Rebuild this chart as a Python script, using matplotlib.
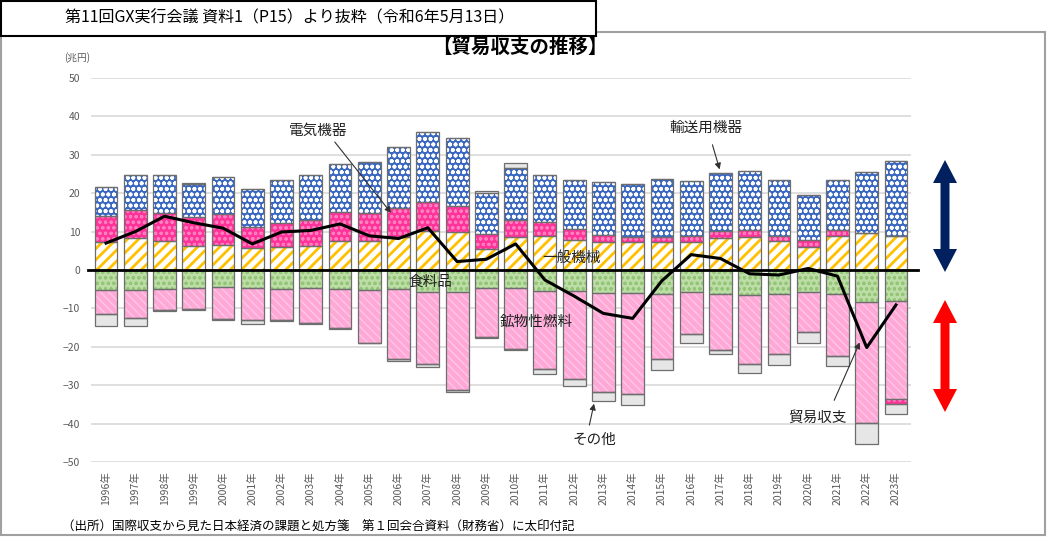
import matplotlib
matplotlib.use('Agg')
import matplotlib.pyplot as plt
import numpy as np
from matplotlib.patches import Rectangle, Polygon

plt.rcParams['font.family'] = ['Noto Sans CJK JP', 'DejaVu Sans']

# data (兆円)
years = [str(y) + '年' for y in range(1996, 2024)]

# exports side (positive stack)
machinery = [7.2, 8.3, 7.5, 6.3, 6.6, 5.7, 6.0, 6.3, 7.6, 7.6, 8.5, 10.2, 9.8, 5.4,
             8.7, 8.9, 7.8, 7.4, 7.4, 7.4, 7.4, 8.4, 8.7, 7.6, 6.1, 8.9, 9.7, 8.9]
electrical = [6.9, 7.3, 7.4, 7.4, 7.9, 5.6, 6.3, 6.8, 7.4, 7.3, 7.6, 7.5, 6.8, 4.1,
              4.3, 3.5, 2.9, 1.7, 1.3, 1.3, 1.5, 1.8, 1.7, 1.3, 1.6, 1.5, 0.0, 0.0]
transport = [7.6, 9.2, 9.9, 8.7, 9.6, 9.7, 11.2, 11.6, 12.5, 13.3, 16.0, 18.3, 17.9, 10.6,
             13.6, 12.3, 12.7, 13.7, 13.7, 15.0, 14.4, 15.1, 15.4, 14.5, 11.8, 13.0, 15.8, 19.6]
other_pos = [0.0, 0.0, 0.0, 0.3, 0.0, 0.0, 0.0, 0.0, 0.2, 0.0, 0.0, 0.0, 0.0, 0.6,
             1.2, 0.0, 0.0, 0.0, 0.0, 0.0, 0.0, 0.0, 0.0, 0.0, 0.0, 0.0, 0.0, 0.0]

# imports side (negative stack, magnitudes)
food = [5.2, 5.2, 5.0, 4.8, 4.5, 4.8, 5.0, 4.8, 5.0, 5.2, 5.0, 5.6, 5.8, 4.7,
        4.7, 5.4, 5.5, 5.9, 6.1, 6.2, 5.8, 6.3, 6.4, 6.3, 5.8, 6.3, 8.3, 8.2]
fuel = [6.3, 7.2, 5.4, 5.4, 8.3, 8.2, 8.1, 8.9, 10.2, 13.7, 18.1, 19.0, 25.5, 12.8,
        16.0, 20.3, 22.9, 25.8, 26.2, 17.1, 10.9, 14.5, 18.0, 15.7, 10.3, 16.0, 31.5, 25.5]
elec_neg = [0.0] * 27 + [1.2]
other_neg = [3.1, 2.2, 0.2, 0.1, 0.1, 1.1, 0.3, 0.4, 0.2, 0.2, 0.7, 0.6, 0.6, 0.1,
             0.2, 1.5, 1.8, 2.3, 2.8, 2.8, 2.2, 1.1, 2.3, 2.7, 2.8, 2.6, 5.6, 2.6]

balance = [7.0, 10.0, 14.0, 12.3, 10.9, 6.8, 9.9, 10.3, 12.0, 8.9, 8.2, 11.0, 2.2, 2.8,
           6.8, -2.6, -6.8, -11.3, -12.6, -2.8, 4.0, 3.0, -1.0, -1.3, 0.4, -1.6, -20.2, -9.1]

W, H = 1047, 537
fig = plt.figure(figsize=(W / 100, H / 100), dpi=100)


def fx(px):
    return px / W


def fy(py):
    return 1 - py / H


# outer frame and header box
fig.patches.append(Rectangle((fx(1), fy(535)), fx(1044), (535 - 32) / H, fill=False,
                             edgecolor='#A0A0A0', lw=1.5, transform=fig.transFigure))
fig.patches.append(Rectangle((fx(1), fy(36)), fx(595), 35 / H, facecolor='white',
                             edgecolor='black', lw=1.5, transform=fig.transFigure, zorder=3))
fig.text(fx(290), fy(18), '第11回GX実行会議 資料1（P15）より抜粋（令和6年5月13日）',
         ha='center', va='center', fontsize=11.5, zorder=4)

ax = fig.add_axes([fx(91.4), fy(462), (910.6 - 91.4) / W, (462 - 78) / H])
x = np.arange(len(years))
bw = 0.78
outline = '#6e6e6e'


def seg(vals, bottom, face, hatch, hcol, hlw=1.0):
    vals = np.asarray(vals)
    with plt.rc_context({'hatch.linewidth': hlw}):
        ax.bar(x, vals, bw, bottom=bottom, color=face, edgecolor=hcol, hatch=hatch,
               linewidth=0, zorder=2)
    ax.bar(x, vals, bw, bottom=bottom, fill=False, edgecolor=outline, linewidth=0.9, zorder=3)


m = np.array(machinery)
e = np.array(electrical)
t = np.array(transport)
seg(m, 0, 'white', '///', '#FFC000', 2.0)
seg(e, m, '#FF3399', 'ooo', '#FF80BF', 0.8)
seg(t, m + e, '#3A68C0', 'ooo', 'white', 1.2)
seg(np.array(other_pos), m + e + t, '#E6E6E6', None, '#E6E6E6')

f = -np.array(food)
fu = -np.array(fuel)
en = -np.array(elec_neg)
seg(f, 0, '#BDDDA6', 'ooo', '#93C576', 0.8)
seg(fu, f, '#FFA8D8', '\\\\\\\\', '#FFC6E4', 1.0)
seg(en, f + fu, '#FF3399', 'ooo', '#FF80BF', 0.8)
seg(-np.array(other_neg), f + fu + en, '#E6E6E6', None, '#E6E6E6')

ax.axhline(0, color='black', lw=2, zorder=5, xmin=-0.004, xmax=1.009, clip_on=False)
ax.plot(x, balance, color='black', lw=2.2, zorder=6)

ax.set_xlim(-0.5, len(years) - 0.5)
ax.set_ylim(-50, 50)
ax.set_yticks(range(-50, 51, 10))
ax.set_xticks(x, years, rotation=90)
ax.tick_params(axis='y', length=0, pad=8, labelsize=7.5, labelcolor='#595959')
ax.tick_params(axis='x', length=0, pad=7, labelsize=7.5, labelcolor='#595959')
ax.yaxis.grid(True, color='#D9D9D9', lw=1.2)
ax.set_axisbelow(True)
for s in ax.spines.values():
    s.set_visible(False)

fig.text(fx(77), fy(58), '(兆円)', ha='center', va='center', fontsize=7, color='#595959')
fig.text(fx(520), fy(47), '【貿易収支の推移】', ha='center', va='center', fontsize=14,
         fontweight='bold')

# series labels
lab = dict(fontsize=10.5, ha='center', va='center', color='#202020', zorder=8)
arr = dict(arrowstyle='-|>', color='#303030', lw=0.8, mutation_scale=9)
ax.text(7.25, 36.2, '電気機器', **lab)
ax.annotate('', xy=(9.8, 14.3), xytext=(7.76, 33.9), arrowprops=arr, zorder=8)
ax.text(20.5, 37.0, '輸送用機器', **lab)
ax.annotate('', xy=(21.0, 25.5), xytext=(20.7, 33.3), arrowprops=arr, zorder=8)
ax.text(15.9, 3.1, '一般機械', **lab)
ax.text(11.1, -3.2, '食料品', **lab)
ax.text(14.7, -13.5, '鉱物性燃料', **lab)
ax.text(16.7, -44.2, 'その他', **lab)
ax.annotate('', xy=(16.7, -34.1), xytext=(16.5, -41.1), arrowprops=arr, zorder=8)
ax.text(24.3, -38.6, '貿易収支', **lab)
ax.annotate('', xy=(25.8, -18.2), xytext=(24.85, -34.6), arrowprops=arr, zorder=8)


def double_arrow(cx, y0, y1, color):
    hw, sw, hl = 12, 4.5, 23
    pts = [(cx, y0), (cx + hw, y0 + hl), (cx + sw, y0 + hl), (cx + sw, y1 - hl),
           (cx + hw, y1 - hl), (cx, y1), (cx - hw, y1 - hl), (cx - sw, y1 - hl),
           (cx - sw, y0 + hl), (cx - hw, y0 + hl)]
    fig.patches.append(Polygon([(fx(a), fy(b)) for a, b in pts], closed=True,
                               facecolor=color, edgecolor='none', transform=fig.transFigure))


double_arrow(945, 160, 272, '#002060')
double_arrow(945, 300, 412, '#FF0000')

fig.text(fx(62), fy(527), '（出所）国際収支から見た日本経済の課題と処方箋　第１回会合資料（財務省）に太印付記',
         ha='left', va='center', fontsize=9)

fig.savefig('out.png', dpi=100)
